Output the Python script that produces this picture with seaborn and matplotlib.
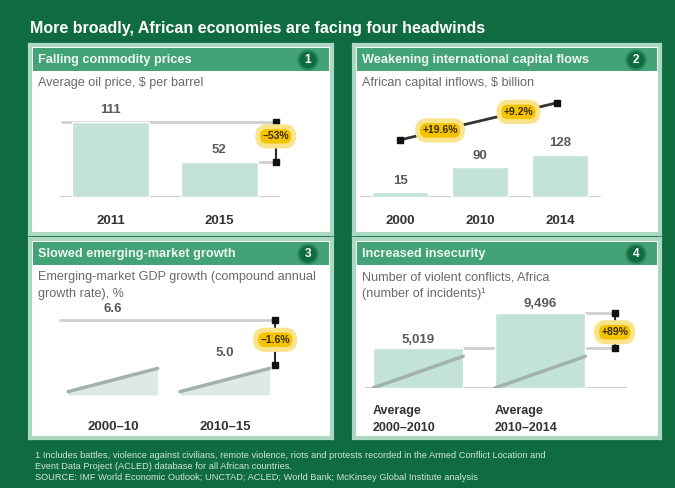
import numpy as np
import matplotlib
matplotlib.use("Agg")
import matplotlib.pyplot as plt
import seaborn as sns

sns.set_style("white")
plt.rcParams['font.family'] = ['Liberation Sans', 'DejaVu Sans']

# ---- data ----
oil_years = ["2011", "2015"]
oil_price = [111, 52]

flow_years = ["2000", "2010", "2014"]
flow_values = [15, 90, 128]

em_periods = ["2000–10", "2010–15"]
em_growth = [6.6, 5.0]

conf_periods = ["Average\n2000–2010", "Average\n2010–2014"]
conf_counts = [5019, 9496]

headers = ["Falling commodity prices", "Weakening international capital flows",
           "Slowed emerging-market growth", "Increased insecurity"]
subtitles = [["Average oil price, $ per barrel"], ["African capital inflows, $ billion"],
             ["Emerging-market GDP growth (compound annual", "growth rate), %"],
             ["Number of violent conflicts, Africa", "(number of incidents)¹"]]
footer = ["1 Includes battles, violence against civilians, remote violence, riots and protests recorded in the Armed Conflict Location and",
          "Event Data Project (ACLED) database for all African countries.",
          "SOURCE: IMF World Economic Outlook; UNCTAD; ACLED; World Bank; McKinsey Global Institute analysis"]

# ---- style ----
W, H = 675, 488
DARK = '#0f6b40'
HEAD = '#43a276'
BORDER = '#acd8c3'
BAR = '#c2e3d5'
RAMP_FILL = '#dde9e3'
RAMP_LINE = '#a2b3ab'
REF = '#cfcfcf'
YEL = '#f3c300'


def frac(x0, y0, x1, y1):
    return [x0 / W, 1 - y1 / H, (x1 - x0) / W, (y1 - y0) / H]


def clean(ax):
    ax.set_facecolor('none')
    for s in ax.spines.values():
        s.set_visible(False)
    ax.set_ylabel('')
    ax.set_xlabel('')
    ax.set_yticks([])


def bubble(ax, x, y, txt):
    ax.text(x, y, txt, ha='center', va='center', fontsize=7.5, fontweight='bold',
            color='#3b2c00', zorder=6,
            bbox=dict(boxstyle='round,pad=0.45,rounding_size=0.9', fc=YEL, ec='#f9e48c', lw=3.5))


def arrow(ax, x, y0, y1):
    ax.plot([x, x], [y0, y1], color='#2b2b2b', lw=1.5, zorder=5)
    ax.plot([x, x], [y0, y1], 's', color='#111111', ms=4, zorder=5)


def vlabel(ax, x, y, txt, off=4):
    ax.annotate(txt, (x, y), xytext=(0, off), textcoords='offset points', ha='center',
                va='bottom', fontsize=9.5, fontweight='bold', color='#5a5a5a')


def xlabels(ax, pad):
    ax.tick_params(axis='x', length=0, pad=pad, labelsize=9.5, labelcolor='#333333')
    for lbl in ax.get_xticklabels():
        lbl.set_fontweight('bold')


fig = plt.figure(figsize=(6.75, 4.88), dpi=100)
fig.patch.set_facecolor(DARK)

fig.text(30 / W, 1 - 28 / H, "More broadly, African economies are facing four headwinds",
         color='white', fontsize=11.5, fontweight='bold', va='center')

panels = [(30, 45, 332, 234), (354, 45, 660, 234), (30, 239, 332, 438), (354, 239, 660, 438)]
for i, (x0, y0, x1, y1) in enumerate(panels):
    bg = fig.add_axes(frac(x0, y0, x1, y1))
    bg.set_xticks([]); bg.set_yticks([])
    bg.set_facecolor('white')
    for s in bg.spines.values():
        s.set_color(BORDER); s.set_linewidth(3)
    hd = fig.add_axes(frac(x0 + 3, y0 + 3, x1 - 3, y0 + 26))
    hd.set_xticks([]); hd.set_yticks([])
    hd.set_facecolor(HEAD)
    for s in hd.spines.values():
        s.set_visible(False)
    fig.text((x0 + 8) / W, 1 - (y0 + 15) / H, headers[i], color='#eef8f2', fontsize=9.2,
             fontweight='bold', va='center')
    fig.text((x1 - 24) / W, 1 - (y0 + 15) / H, str(i + 1), color='white', fontsize=8.5,
             fontweight='bold', ha='center', va='center',
             bbox=dict(boxstyle='circle,pad=0.3', fc=DARK, ec='#2d8a5c', lw=1.5))
    for k, line in enumerate(subtitles[i]):
        fig.text((x0 + 8) / W, 1 - (y0 + 38 + k * 17) / H, line, color='#6a6a6a',
                 fontsize=9.1, va='center')

# ---- panel 1: oil price ----
ax1 = fig.add_axes(frac(40, 100, 330, 197))
sns.barplot(x=oil_years, y=oil_price, color=BAR, saturation=1, width=0.71, ax=ax1, zorder=2)
clean(ax1)
ax1.set_xlim(-0.65, 2.02)
ax1.set_ylim(0, 143)
ax1.plot([-0.47, 1.55], [0, 0], color=REF, lw=1.5, zorder=1)
ax1.plot([-0.45, 1.52], [oil_price[0]] * 2, color=REF, lw=2, zorder=1)
ax1.plot([1.36, 1.52], [oil_price[1]] * 2, color=REF, lw=2, zorder=1)
for i, v in enumerate(oil_price):
    vlabel(ax1, i, v, str(v))
arrow(ax1, 1.52, oil_price[0], oil_price[1])
chg = (oil_price[1] / oil_price[0] - 1) * 100
bubble(ax1, 1.52, np.mean(oil_price) + 8, f"{chg:+.0f}%".replace('-', '–'))
xlabels(ax1, 13)

# ---- panel 2: capital inflows ----
ax2 = fig.add_axes(frac(360, 95, 650, 197))
sns.barplot(x=flow_years, y=flow_values, color=BAR, saturation=1, width=0.69, ax=ax2, zorder=2)
clean(ax2)
ax2.set_xlim(-0.5, 3.125)
ax2.set_ylim(0, 311)
ax2.plot([-0.54, 2.5], [0, 0], color=REF, lw=1.5, zorder=1)
for i, v in enumerate(flow_values):
    vlabel(ax2, i, v, str(v))
track_x = [0, 1, 1.96]
track_y = [174, 232, 287]
ax2.plot(track_x, track_y, color='#333333', lw=2, zorder=4)
ax2.plot([track_x[0], track_x[-1]], [track_y[0], track_y[-1]], 's', color='#111111', ms=4.5, zorder=5)
spans = [10, 4]
for k in range(2):
    cagr = ((flow_values[k + 1] / flow_values[k]) ** (1 / spans[k]) - 1) * 100
    bubble(ax2, (track_x[k] + track_x[k + 1]) / 2, (track_y[k] + track_y[k + 1]) / 2,
           f"+{cagr:.1f}%")
xlabels(ax2, 13)

# ---- panel 3: emerging-market growth ----
ax3 = fig.add_axes(frac(45, 305, 330, 395))
sns.barplot(x=em_periods, y=em_growth, color='white', alpha=0, ax=ax3)
clean(ax3)
ax3.set_xlim(-0.607, 1.94)
ax3.set_ylim(3.93, 7.14)
base = 3.93
for i in range(len(em_growth)):
    l, r = i - 0.4, i + 0.4
    ax3.fill_between([l, r], [base, base], [base + 0.12, base + 0.95], color=RAMP_FILL, lw=0)
    ax3.plot([l, r], [base + 0.12, base + 0.95], color=RAMP_LINE, lw=2.5)
ax3.plot([-0.47, 1.45], [em_growth[0]] * 2, color=REF, lw=2, zorder=1)
for i, v in enumerate(em_growth):
    vlabel(ax3, i, v, f"{v:.1f}")
arrow(ax3, 1.45, em_growth[0], em_growth[1])
d = em_growth[1] - em_growth[0]
bubble(ax3, 1.45, np.mean(em_growth) + 0.1, f"{d:+.1f}%".replace('-', '–'))
xlabels(ax3, 19)

# ---- panel 4: violent conflicts ----
ax4 = fig.add_axes(frac(365, 295, 655, 388))
sns.barplot(x=list(range(len(conf_counts))), y=conf_counts, color=BAR, saturation=1,
            width=0.74, ax=ax4, zorder=2)
clean(ax4)
ax4.set_xlim(-0.434, 1.94)
ax4.set_ylim(0, 11776)
ax4.set_xticks([])
ax4.plot([-0.45, 1.7], [0, 0], color=REF, lw=1.5, zorder=1)
for i in range(len(conf_counts)):
    l, r = i - 0.37, i + 0.37
    ax4.plot([l, r], [0, conf_counts[0] * 0.8], color=RAMP_LINE, lw=2.5, zorder=3)
ax4.plot([0.37, 1.61], [conf_counts[0]] * 2, color=REF, lw=2, zorder=1)
ax4.plot([1.37, 1.61], [conf_counts[1]] * 2, color=REF, lw=2, zorder=1)
for i, v in enumerate(conf_counts):
    vlabel(ax4, i, v, f"{v:,}", off=2)
    ax4.annotate(conf_periods[i], (i - 0.37, 0), xytext=(0, -12), textcoords='offset points',
                 ha='left', va='top', fontsize=9, fontweight='bold', color='#333333',
                 linespacing=1.55, annotation_clip=False)
arrow(ax4, 1.61, conf_counts[1], conf_counts[0])
pct = (conf_counts[1] / conf_counts[0] - 1) * 100
bubble(ax4, 1.61, np.mean(conf_counts) - 200, f"+{pct:.0f}%")

# ---- footer ----
for k, line in enumerate(footer):
    fig.text(35 / W, 1 - (455 + k * 11.5) / H, line, color='#cde6d9', fontsize=6.7, va='center')

fig.savefig("out.png", dpi=100, facecolor=fig.get_facecolor())
